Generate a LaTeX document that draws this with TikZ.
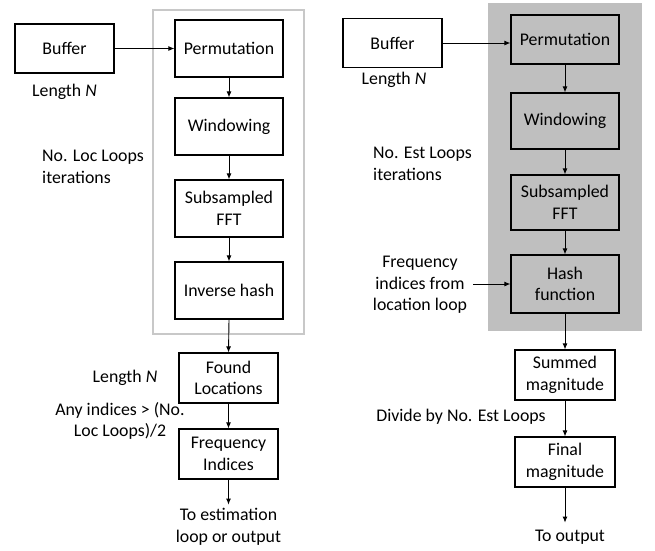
\documentclass[tikz,border=0pt]{standalone}
\usepackage{fontspec}
\setmainfont{Carlito}
\usepackage{tikz}
\usetikzlibrary{positioning,arrows.meta,fit,calc,backgrounds}
\definecolor{loopGray}{RGB}{191,191,191}
\definecolor{frameGray}{RGB}{200,200,200}

\begin{document}
\begin{tikzpicture}[x=1pt,y=-1pt,
                  font=\fontsize{17.8}{21.5}\selectfont,
                  s/.style={draw,line width=1.2pt,align=center,inner sep=2pt,minimum width=108pt},
                  t/.style={align=center,inner sep=0pt},
                  arr/.style={-{Latex[length=6pt,width=5pt]},line width=0.9pt}
                ]
                \useasboundingbox (0,0) rectangle (655,550);
                \draw[frameGray,line width=1.5pt] (153,10) rectangle (304,334);
                \fill[loopGray] (488,3) rectangle (642,331);

                \node[s,minimum width=99pt,minimum height=49pt] (bufL) at (64.5,48.5) {Buffer};
                \node[s,minimum height=57pt] (permL) at (229,48.5) {Permutation};
                \node[s,minimum height=57pt] (winL) at (229,126.5) {Windowing};
                \node[s,minimum height=57pt] (fftL) at (229,208.5) {Subsampled\\FFT};
                \node[s,minimum height=57pt] (invL) at (229,290.5) {Inverse hash};
                \node[s,minimum width=99pt,minimum height=50pt] (found) at (228.5,378) {Found\\Locations};
                \node[s,minimum width=99pt,minimum height=50pt] (freqL) at (228.5,454) {Frequency\\Indices};
                \node[t] (outL) at (228.5,527) {To estimation\\loop or output};
                \node[t] (lenL) at (64.5,92) {Length \textit{N}};
                \node[t,align=left,anchor=west] (itL) at (42,167) {No. Loc Loops\\iterations};
                \node[t] (lenF) at (125,378) {Length \textit{N}};
                \node[t] (anyL) at (120,421) {Any indices > (No.\\Loc Loops)/2};

                \draw[arr] (bufL.east) -- (permL.west);
                \draw[arr] (permL.south) -- (winL.north);
                \draw[arr] (winL.south) -- (fftL.north);
                \draw[arr] (fftL.south) -- (invL.north);
                \draw[arr] (invL.south) -- (found.north);
                \draw[arr] (found.south) -- (freqL.north);
                \draw[arr] (freqL.south) -- ++(0,25) coordinate (endL);

                \node[s,minimum width=99pt,minimum height=49pt] (bufR) at (392.5,43) {Buffer};
                \node[s,fill=loopGray,minimum height=49pt] (permR) at (565,39.5) {Permutation};
                \node[s,fill=loopGray,minimum height=56pt] (winR) at (565,121) {Windowing};
                \node[s,fill=loopGray,minimum height=55pt] (fftR) at (565,202.5) {Subsampled\\FFT};
                \node[s,fill=loopGray,minimum height=58pt] (hashR) at (565,284) {Hash\\function};
                \node[s,minimum width=100pt,minimum height=50pt] (sum) at (565,375) {Summed\\magnitude};
                \node[s,minimum width=100pt,minimum height=50pt] (final) at (565,462) {Final\\magnitude};
                \node[t] (outR) at (570,537) {To output};
                \node[t] (lenR) at (394,80) {Length \textit{N}};
                \node[t,align=left,anchor=west] (itR) at (373,164) {No. Est Loops\\iterations};
                \node[t] (fromLoc) at (420,285) {Frequency\\indices from\\location loop};
                \node[t] (divR) at (461,417) {Divide by No. Est Loops};

                \draw[arr] (bufR.east) -- (bufR.east -| permR.west);
                \draw[arr] (permR.south) -- (winR.north);
                \draw[arr] (winR.south) -- (fftR.north);
                \draw[arr] (fftR.south) -- (hashR.north);
                \draw[arr] (hashR.south) -- (sum.north);
                \draw[arr] (sum.south) -- (final.north);
                \draw[arr] (final.south) -- ++(0,35) coordinate (endR);
                \draw[arr] (fromLoc.east |- hashR.west) ++(6,0) -- (hashR.west);
                \end{tikzpicture}
\end{document}
